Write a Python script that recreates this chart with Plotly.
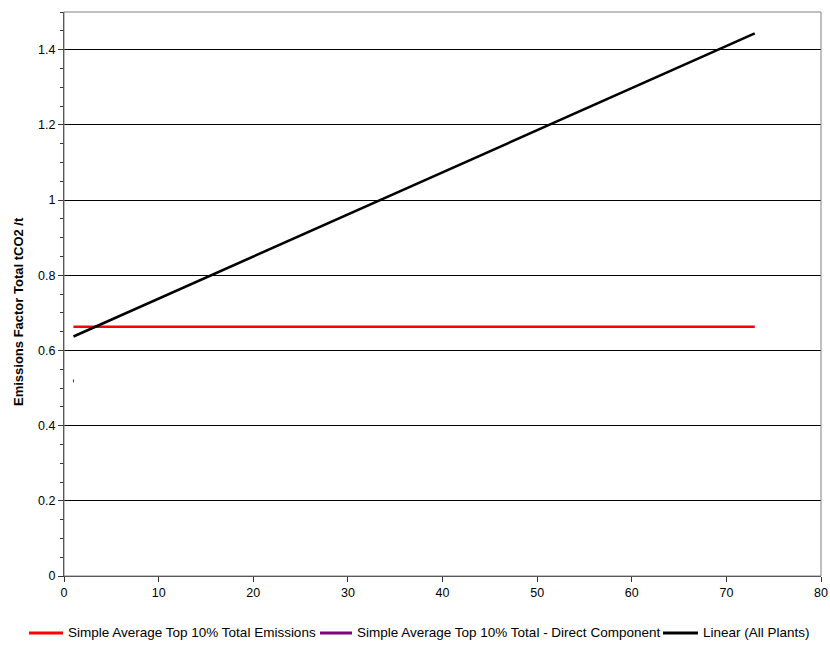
import plotly.graph_objects as go

# Data
red_x = [1, 73]
red_y = [0.663, 0.663]
purple_x = [1]
purple_y = [0.519]
linear_x = [1, 73]
linear_y = [0.637, 1.443]

names = ["Simple Average Top 10% Total Emissions",
         "Simple Average Top 10% Total - Direct Component",
         "Linear (All Plants)"]
colors = ["#FF0000", "#800080", "#000000"]
y_title = "<b>Emissions Factor Total tCO2 /t</b>"

fig = go.Figure()
fig.add_trace(go.Scatter(x=red_x, y=red_y, mode="lines", name=names[0],
                         line=dict(color=colors[0], width=2.5)))
fig.add_trace(go.Scatter(x=purple_x, y=purple_y, mode="lines+markers", name=names[1],
                         line=dict(color=colors[1], width=2.5),
                         marker=dict(color=colors[1], size=2, symbol="line-ns",
                                     line=dict(color=colors[1], width=1))))
fig.add_trace(go.Scatter(x=linear_x, y=linear_y, mode="lines", name=names[2],
                         line=dict(color=colors[2], width=2.5)))

font_family = "Liberation Sans, Arial, sans-serif"

W, H = 830, 645
L, R, T, B = 64, 9, 12, 69
PLOT_W = W - L - R
PLOT_H = H - T - B

def px2x(px):
    return (px - L) / PLOT_W

def py2y(py):
    return (H - B - py) / PLOT_H

fig.update_layout(
    width=W, height=H,
    margin=dict(l=L, r=R, t=T, b=B, autoexpand=False),
    paper_bgcolor="white", plot_bgcolor="white",
    font=dict(family=font_family, size=12, color="black"),
    showlegend=False,
    hovermode=False,
    xaxis=dict(range=[0, 80], dtick=10, tick0=0, showgrid=False, automargin=False,
               ticks="outside", ticklen=5, tickcolor="#333", tickwidth=1,
               showline=True, linecolor="#333", linewidth=1, mirror=False,
               zeroline=False, tickfont=dict(size=12.5), ticklabeloverflow="allow"),
    yaxis=dict(range=[0, 1.5], dtick=0.2, tick0=0, showgrid=True, automargin=False,
               gridcolor="#000000", gridwidth=1,
               ticks="outside", ticklen=5, tickcolor="#333", tickwidth=1,
               showline=True, linecolor="#333", linewidth=1,
               zeroline=False, tickfont=dict(size=12.5),
               minor=dict(dtick=0.05, ticks="outside", ticklen=3, tickcolor="#333", showgrid=False)),
)

# y-axis title
fig.add_annotation(xref="paper", yref="paper", x=px2x(18), y=py2y(312),
                   xanchor="center", yanchor="middle", textangle=-90, showarrow=False,
                   text=y_title, font=dict(size=13, color="black"))

# plot area border (top and right)
fig.add_shape(type="rect", xref="paper", yref="paper", x0=0, y0=0, x1=1, y1=1,
              line=dict(color="#808080", width=1), layer="above")

# legend drawn below the plot
legend_y = py2y(633)
legend_items = [(29, 63, 66), (320, 352, 355), (663, 698, 701)]
for (lx0, lx1, tx), name, col in zip(legend_items, names, colors):
    fig.add_shape(type="line", xref="paper", yref="paper",
                  x0=px2x(lx0), x1=px2x(lx1), y0=legend_y, y1=legend_y,
                  line=dict(color=col, width=3))
    fig.add_annotation(xref="paper", yref="paper", x=px2x(tx), y=legend_y,
                       xanchor="left", yanchor="middle", showarrow=False,
                       text=name, font=dict(size=13.5, color="black"))

fig.write_html("out.html", config={"displayModeBar": False},
               post_script="document.body.style.margin='0';")
